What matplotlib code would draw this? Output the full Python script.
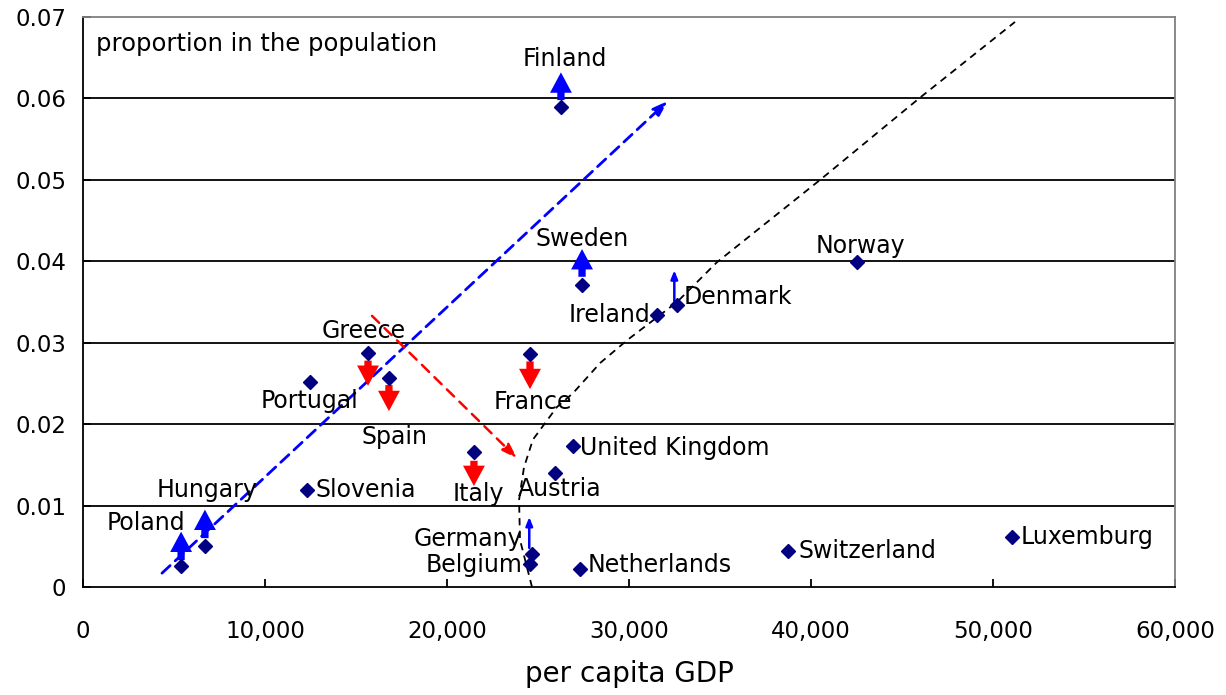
import matplotlib.pyplot as plt
from matplotlib.ticker import FuncFormatter

# countries: per capita GDP, proportion in the population
countries = ["Finland", "Sweden", "Norway", "Denmark", "Ireland", "Greece", "Spain",
             "Portugal", "France", "Italy", "United Kingdom", "Austria", "Slovenia",
             "Hungary", "Poland", "Germany", "Belgium", "Netherlands", "Switzerland",
             "Luxemburg"]
gdp = [26260, 27420, 42530, 32640, 31540, 15660, 16810, 12470, 24560, 21480,
       26920, 25930, 12310, 6700, 5390, 24670, 24560, 27310, 38740, 51040]
prop = [0.0589, 0.0371, 0.0399, 0.0346, 0.0334, 0.0287, 0.0257, 0.0252, 0.0286,
        0.0166, 0.0173, 0.0140, 0.0119, 0.0050, 0.0026, 0.0041, 0.0028, 0.0022,
        0.0044, 0.0061]

# label placement (x, y, horizontal alignment)
labels = {
    "Finland": (26500, 0.0648, "center"),
    "Sweden": (27400, 0.0427, "center"),
    "Norway": (42700, 0.0419, "center"),
    "Denmark": (33000, 0.0356, "left"),
    "Ireland": (31150, 0.0334, "right"),
    "Greece": (15400, 0.0314, "center"),
    "Portugal": (12420, 0.0229, "center"),
    "Spain": (17100, 0.0184, "center"),
    "France": (24700, 0.0227, "center"),
    "Italy": (21700, 0.0114, "center"),
    "United Kingdom": (27300, 0.0171, "left"),
    "Austria": (26200, 0.0120, "center"),
    "Slovenia": (12800, 0.0119, "left"),
    "Hungary": (6800, 0.0119, "center"),
    "Poland": (3450, 0.0079, "center"),
    "Germany": (24150, 0.0059, "right"),
    "Belgium": (24150, 0.0027, "right"),
    "Netherlands": (27750, 0.0027, "left"),
    "Switzerland": (39300, 0.0044, "left"),
    "Luxemburg": (51500, 0.0062, "left"),
}

# arrows: country -> (start offset, end offset) in proportion
thick_up = {"Finland": (0.0009, 0.0043), "Sweden": (0.0010, 0.0044),
            "Hungary": (0.0010, 0.0045), "Poland": (0.0007, 0.0042)}
thick_down = {"Greece": (-0.0009, -0.0040), "Spain": (-0.0009, -0.0041),
              "France": (-0.0009, -0.0043), "Italy": (-0.0011, -0.0042)}
thin_up = {"Denmark": (0.0005, 0.0043), "Germany": (0.0007, 0.0045)}

# trend lines
blue_line = ([4340, 32140], [0.0017, 0.0597])
red_line = ([15880, 23850], [0.0333, 0.0158])
curve_x = [24670, 24010, 23960, 24230, 24720, 26040, 26920, 28410, 29890, 32640,
           34840, 40500, 45990, 51210]
curve_y = [0.0, 0.0058, 0.0107, 0.0147, 0.0181, 0.0221, 0.0238, 0.0275, 0.0303, 0.0350,
           0.0399, 0.0500, 0.0601, 0.0694]

fig = plt.figure(figsize=(12.26, 6.95), dpi=100)
ax = fig.add_axes([0.0677, 0.1554, 0.8907, 0.8201])

for y in [0.01, 0.02, 0.03, 0.04, 0.05, 0.06]:
    ax.axhline(y, color="black", lw=1.3, zorder=1)

ax.plot(curve_x, curve_y, color="black", ls=(0, (4, 3)), lw=1.3, zorder=2)
ax.annotate("", xy=(blue_line[0][1], blue_line[1][1]), xytext=(blue_line[0][0], blue_line[1][0]),
            arrowprops=dict(arrowstyle="-|>,head_length=0.9,head_width=0.3", color="blue",
                            lw=2, ls=(0, (4, 2.5)), shrinkA=0, shrinkB=0), zorder=2)
ax.annotate("", xy=(red_line[0][1], red_line[1][1]), xytext=(red_line[0][0], red_line[1][0]),
            arrowprops=dict(arrowstyle="-|>,head_length=0.9,head_width=0.3", color="red",
                            lw=1.8, ls=(0, (4, 3)), shrinkA=0, shrinkB=0), zorder=2)

ax.plot(gdp, prop, "D", color="#000080", ms=7, ls="none", zorder=4)

for name, (a, b) in thick_up.items():
    i = countries.index(name)
    ax.arrow(gdp[i], prop[i] + a, 0, b - a, width=400, head_width=1200, head_length=0.0025,
             length_includes_head=True, color="blue", lw=0, zorder=3)
for name, (a, b) in thick_down.items():
    i = countries.index(name)
    ax.arrow(gdp[i], prop[i] + a, 0, b - a, width=400, head_width=1200, head_length=0.0025,
             length_includes_head=True, color="red", lw=0, zorder=3)
for name, (a, b) in thin_up.items():
    i = countries.index(name)
    ax.annotate("", xy=(gdp[i] - 150, prop[i] + b), xytext=(gdp[i] - 150, prop[i] + a),
                arrowprops=dict(arrowstyle="-|>,head_length=0.5,head_width=0.2", color="blue",
                                lw=1.8, shrinkA=0, shrinkB=0), zorder=3)

for name, (lx, ly, ha) in labels.items():
    ax.text(lx, ly, name, fontsize=17, ha=ha, va="center", zorder=5)

ax.text(700, 0.0667, "proportion in the population", fontsize=17.5, ha="left", va="center")

ax.set_xlim(0, 60000)
ax.set_ylim(0, 0.07)
ax.set_xticks(range(0, 60001, 10000))
ax.set_yticks([0, 0.01, 0.02, 0.03, 0.04, 0.05, 0.06, 0.07])
ax.xaxis.set_major_formatter(FuncFormatter(lambda v, p: f"{int(v):,}"))
ax.yaxis.set_major_formatter(FuncFormatter(lambda v, p: "0" if v == 0 else f"{v:.2f}"))
ax.tick_params(direction="in", labelsize=16.5, length=6, width=1.3)
ax.tick_params(axis="x", pad=24)
ax.tick_params(axis="y", pad=12)
for s in ax.spines.values():
    s.set_linewidth(1.3)
ax.spines["top"].set_color("#808080")
ax.spines["right"].set_color("#808080")
ax.set_xlabel("per capita GDP", fontsize=20, labelpad=12)

plt.savefig("out.png")
